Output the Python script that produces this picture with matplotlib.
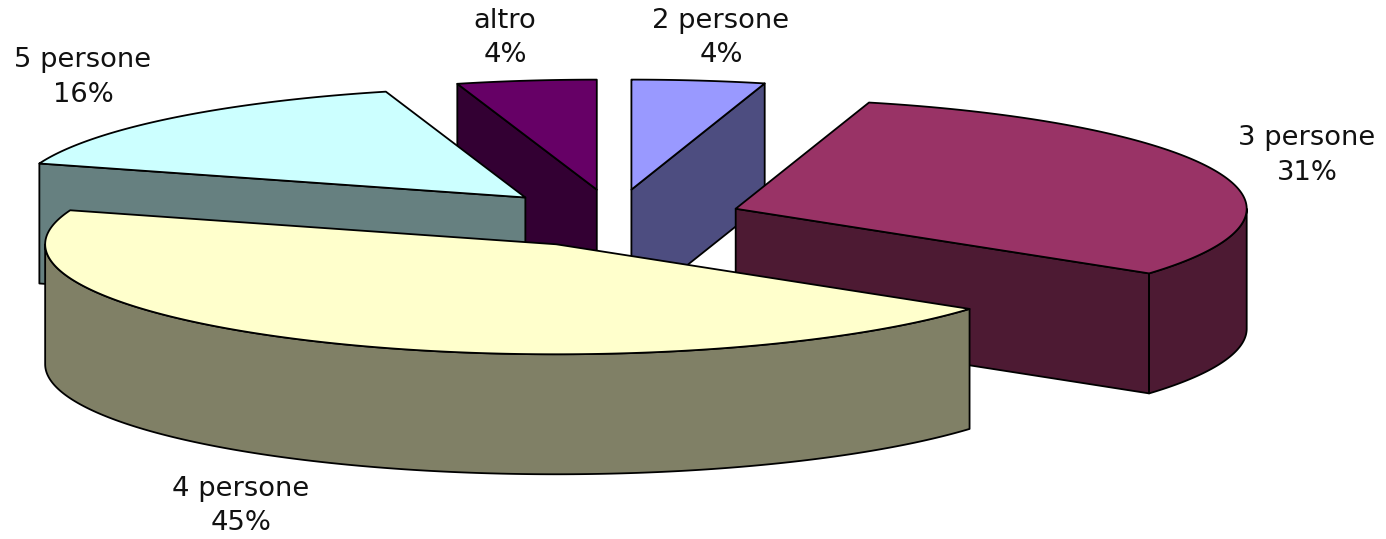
import numpy as np
import matplotlib
matplotlib.use("Agg")
import matplotlib.pyplot as plt
from matplotlib.patches import Polygon

categories = ["2 persone", "3 persone", "4 persone", "5 persone", "altro"]
values = [4.2, 30.8, 45.0, 15.6, 4.4]
top_colors = ["#9999FF", "#993366", "#FFFFCC", "#CCFFFF", "#660066"]
wall_colors = ["#4D4D80", "#4D1A33", "#808066", "#668080", "#330033"]

W, H = 1386, 539
CX, CY = 614.5, 218.4
RX, RY = 511, 110
DEPTH = 120
EXPLODE_X, EXPLODE_Y = 0.2515, 0.264
DRAW_ORDER = [4, 0, 3, 1, 2]
LABEL_XY = [(721, 38), (1307, 155.5), (241, 506), (83, 77.5), (505, 38)]

fig = plt.figure(figsize=(W / 100, H / 100), dpi=100)
ax = fig.add_axes([0, 0, 1, 1])
ax.set_xlim(0, W)
ax.set_ylim(H, 0)
ax.axis("off")


def rim(theta, ax0, ay0):
    return np.column_stack([ax0 + RX * np.sin(theta), ay0 - RY * np.cos(theta)])


edges = np.radians(np.concatenate([[0], np.cumsum(values)]) * 3.6)
lw = 1.3

for i in DRAW_ORDER:
    t1, t2 = edges[i], edges[i + 1]
    mid = (t1 + t2) / 2
    ax0 = CX + EXPLODE_X * RX * np.sin(mid)
    ay0 = CY - EXPLODE_Y * RY * np.cos(mid)
    apex = np.array([ax0, ay0])
    down = np.array([0, DEPTH])
    # only the radial walls that face the viewer
    for t, visible in ((t1, np.sin(t1) < 0), (t2, np.sin(t2) > 0)):
        if visible:
            p = rim(np.array([t]), ax0, ay0)[0]
            ax.add_patch(Polygon([apex, p, p + down, apex + down], closed=True, fc=wall_colors[i],
                                 ec="black", lw=lw, joinstyle="round"))
    a, b = max(t1, np.pi / 2), min(t2, 3 * np.pi / 2)
    if b > a:
        arc = rim(np.linspace(a, b, 200), ax0, ay0)
        ax.add_patch(Polygon(np.vstack([arc, (arc + down)[::-1]]), closed=True,
                             fc=wall_colors[i], ec="black", lw=lw, joinstyle="round"))
    arc = rim(np.linspace(t1, t2, 300), ax0, ay0)
    ax.add_patch(Polygon(np.vstack([apex, arc]), closed=True, fc=top_colors[i], ec="black",
                         lw=lw, joinstyle="round"))

for name, v, (x, y) in zip(categories, values, LABEL_XY):
    ax.text(x, y, f"{name}\n{round(v)}%", ha="center", va="center", fontsize=19.7,
            family="DejaVu Sans", color="#111111", linespacing=1.45)

fig.savefig("out.png", dpi=100, facecolor="white")
